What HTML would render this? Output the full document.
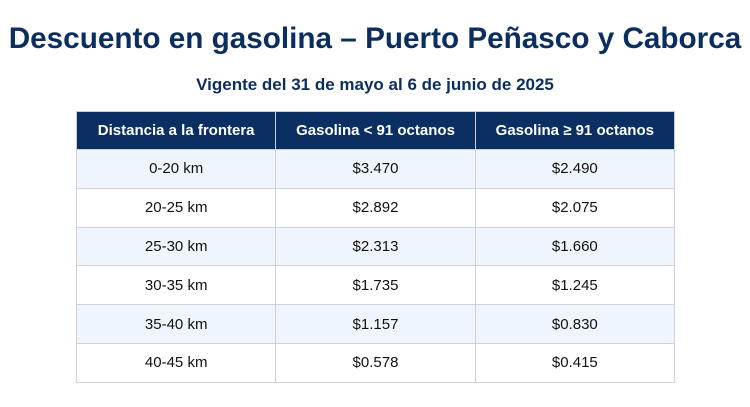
<!DOCTYPE html>
<html><head><meta charset="utf-8"><style>
body{margin:0;width:750px;height:407px;background:#fff;font-family:"Liberation Sans",sans-serif;position:relative;overflow:hidden}
h1{position:absolute;top:22px;left:0;width:750px;margin:0;text-align:center;font-size:29.7px;font-weight:bold;color:#0b2e5f;white-space:nowrap}
h2{position:absolute;top:75px;left:0;width:750px;margin:0;text-align:center;font-size:17px;font-weight:bold;color:#0b2e5f}
table{position:absolute;top:111px;left:76px;width:599px;border-collapse:collapse;font-size:15px}
th{background:#0a2f62;color:#fff;height:37px;font-weight:bold;border:1px solid #c9ced6;width:199px;padding:0}
td{height:37.8px;text-align:center;border:1px solid #cfd3d8;color:#111;padding:0}
tr:nth-child(odd) td{background:#eef5fd}
</style></head><body>
<h1>Descuento en gasolina – Puerto Peñasco y Caborca</h1>
<h2>Vigente del 31 de mayo al 6 de junio de 2025</h2>
<table>
<thead><tr><th>Distancia a la frontera</th><th>Gasolina &lt; 91 octanos</th><th>Gasolina ≥ 91 octanos</th></tr></thead>
<tbody>
<tr><td>0-20 km</td><td>$3.470</td><td>$2.490</td></tr>
<tr><td>20-25 km</td><td>$2.892</td><td>$2.075</td></tr>
<tr><td>25-30 km</td><td>$2.313</td><td>$1.660</td></tr>
<tr><td>30-35 km</td><td>$1.735</td><td>$1.245</td></tr>
<tr><td>35-40 km</td><td>$1.157</td><td>$0.830</td></tr>
<tr><td>40-45 km</td><td>$0.578</td><td>$0.415</td></tr>
</tbody></table>
</body></html>
